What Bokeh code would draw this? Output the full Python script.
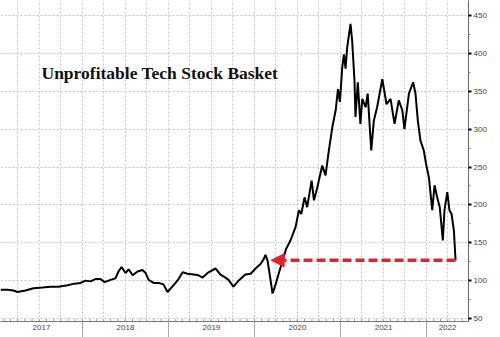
import numpy as np
import pandas as pd
from bokeh.plotting import figure
from bokeh.models import (Range1d, LinearAxis, FixedTicker, Label, Arrow, NormalHead,
                          ColumnDataSource, Grid)
from bokeh.embed import file_html
from bokeh.resources import INLINE

# ---------------- data ----------------
dates = [
    "2017-01-18", "2017-02-17", "2017-03-14", "2017-03-31", "2017-05-04", "2017-06-07",
    "2017-07-15", "2017-08-18", "2017-09-21", "2017-10-30", "2017-11-28", "2017-12-24",
    "2018-01-14", "2018-02-04", "2018-02-25", "2018-03-19", "2018-04-05", "2018-04-30",
    "2018-05-21", "2018-06-03", "2018-06-16", "2018-07-03", "2018-07-16", "2018-08-02",
    "2018-08-23", "2018-09-13", "2018-09-26", "2018-10-09", "2018-10-30", "2018-11-20",
    "2018-12-11", "2018-12-28", "2019-01-23", "2019-02-13", "2019-03-02", "2019-03-23",
    "2019-04-18", "2019-05-09", "2019-05-26", "2019-06-20", "2019-07-20", "2019-08-10",
    "2019-08-31", "2019-09-13", "2019-10-04", "2019-10-26", "2019-11-24", "2019-12-16",
    "2020-01-06", "2020-01-27", "2020-02-09", "2020-02-17", "2020-02-26", "2020-03-10",
    "2020-03-18", "2020-03-31", "2020-04-13", "2020-05-04", "2020-05-15", "2020-06-02",
    "2020-06-24", "2020-07-08", "2020-07-18", "2020-08-01", "2020-08-12", "2020-08-31",
    "2020-09-10", "2020-09-24", "2020-10-15", "2020-10-29", "2020-11-10", "2020-11-27",
    "2020-12-11", "2020-12-21", "2020-12-29", "2021-01-08", "2021-01-15", "2021-01-22",
    "2021-01-29", "2021-02-12", "2021-02-19", "2021-03-01", "2021-03-05", "2021-03-15",
    "2021-03-26", "2021-04-03", "2021-04-17", "2021-04-26", "2021-05-11", "2021-05-22",
    "2021-06-05", "2021-06-27", "2021-07-15", "2021-08-01", "2021-08-18", "2021-09-05",
    "2021-09-20", "2021-09-29", "2021-10-18", "2021-11-05", "2021-11-15", "2021-11-25",
    "2021-12-06", "2021-12-20", "2021-12-30", "2022-01-11", "2022-01-25", "2022-02-04",
    "2022-02-15", "2022-02-26", "2022-03-11", "2022-03-18", "2022-03-30", "2022-04-08",
    "2022-04-17", "2022-04-27", "2022-05-04",
]
values = [
    88, 88, 87, 85, 87, 90,
    91, 92, 92, 94, 96, 97,
    100, 99, 102, 102, 98, 101,
    103, 112, 118, 110, 115, 107,
    112, 114, 110, 101, 97, 97,
    95, 85, 94, 102, 111, 109,
    108, 107, 104, 111, 116, 108,
    104, 101, 92, 100, 108, 109,
    116, 122, 128, 134, 126, 100,
    83, 95, 109, 131, 142, 153,
    171, 193, 188, 210, 197, 232,
    206, 223, 252, 239, 267, 303,
    325, 353, 336, 382, 399, 380,
    408, 439, 417, 364, 316, 362,
    307, 340, 329, 347, 272, 311,
    329, 366, 333, 340, 307, 338,
    325, 300, 347, 362, 347, 311,
    285, 272, 254, 236, 193, 226,
    210, 197, 153, 193, 217, 193,
    188, 166, 126.8845,
]
year_labels = ["2017", "2018", "2019", "2020", "2021", "2022"]
y_ticks = [50, 100, 150, 200, 250, 300, 350, 400, 450]
last_value = 126.8845
arrow_tip_date = "2020-03-12"
title_text = "Unprofitable Tech Stock Basket"

X_START, X_END = "2017-01-18", "2022-06-28"
Y_START, Y_END = 46, 470
RED = "#e3232b"


def ms(d):
    return pd.Timestamp(d).value / 1e6


src = ColumnDataSource(dict(x=pd.to_datetime(dates), y=values))

p = figure(width=500, height=337, output_backend="svg", toolbar_location=None,
           x_axis_type=None, y_axis_type=None,
           x_range=Range1d(ms(X_START), ms(X_END)),
           y_range=Range1d(Y_START, Y_END),
           min_border_left=0, min_border_top=0, min_border_right=32, min_border_bottom=16)
p.outline_line_color = None
p.background_fill_color = "white"
p.border_fill_color = "white"

# grids
quarter_ms = [ms(d) for d in pd.date_range("2017-01-01", "2022-07-01", freq="QS")]
p.add_layout(Grid(dimension=0, ticker=FixedTicker(ticks=quarter_ms),
                  grid_line_color="#c4c4c4", grid_line_dash="2 2", grid_line_width=1))
p.add_layout(Grid(dimension=1, ticker=FixedTicker(ticks=y_ticks),
                  grid_line_color="#c4c4c4", grid_line_dash="2 2", grid_line_width=1))

# small monthly ticks sitting on the bottom axis line
month_ms = [ms(d) for d in pd.date_range("2017-01-01", "2022-07-01", freq="MS")]
p.scatter(x=month_ms, y=[Y_START] * len(month_ms), marker="dash", angle=np.pi / 2,
          size=5, line_color="#999999", line_width=1)

# line
p.line("x", "y", source=src, line_color="black", line_width=2)

# red dashed arrow to the current level
p.add_layout(Arrow(end=NormalHead(size=13, fill_color=RED, line_color=RED, line_width=1),
                   x_start=ms(dates[-1]), y_start=last_value,
                   x_end=ms(arrow_tip_date), y_end=last_value,
                   line_color=RED, line_width=3.5, line_dash="9 4"))

# title inside plot
p.add_layout(Label(x=41, y=249, x_units="screen", y_units="screen", text=title_text,
                   text_font="Liberation Serif", text_font_style="bold",
                   text_font_size="17.5px", text_color="#111111", text_baseline="alphabetic"))

# bottom axis: year labels centred in each (visible) year + separators
x0, x1 = pd.Timestamp(X_START), pd.Timestamp(X_END)
year_start_ms = [ms(f"{y}-01-01") for y in year_labels]
label_pos = []
for y in year_labels:
    a = max(pd.Timestamp(f"{y}-01-01"), x0)
    b = min(pd.Timestamp(f"{int(y) + 1}-01-01"), x1)
    label_pos.append(ms(a + (b - a) / 2))
ax_y = LinearAxis(ticker=FixedTicker(ticks=label_pos, minor_ticks=year_start_ms[1:]),
                  major_label_overrides={t: lab for t, lab in zip(label_pos, year_labels)},
                  major_tick_in=0, major_tick_out=0, minor_tick_in=0, minor_tick_out=16,
                  axis_line_color="#777777", major_tick_line_color=None,
                  minor_tick_line_color="#aaaaaa",
                  major_label_text_font="Liberation Sans", major_label_text_font_size="8px",
                  major_label_text_color="#444444", major_label_standoff=-13)
p.add_layout(ax_y, "below")

# right axis
y_minor = [v + 25 for v in y_ticks[:-1]]
ax_r = LinearAxis(ticker=FixedTicker(ticks=y_ticks, minor_ticks=y_minor),
                  major_tick_in=0, major_tick_out=3, minor_tick_in=0, minor_tick_out=2,
                  axis_line_color="#666666", major_tick_line_color="black",
                  major_tick_line_width=2, minor_tick_line_color="#888888",
                  major_label_text_font="Liberation Sans", major_label_text_font_size="8px",
                  major_label_text_color="#444444", major_label_standoff=2)
p.add_layout(ax_r, "right")

# last value tag
p.add_layout(Label(x=ms(dates[-1]), y=last_value, x_offset=16, text=f"{last_value:.4f}",
                   text_color="white", text_font="Liberation Sans", text_font_size="6.6px",
                   text_baseline="middle", background_fill_color="black",
                   padding=2, border_radius=2))

open("out.html", "w").write(file_html(p, INLINE))
